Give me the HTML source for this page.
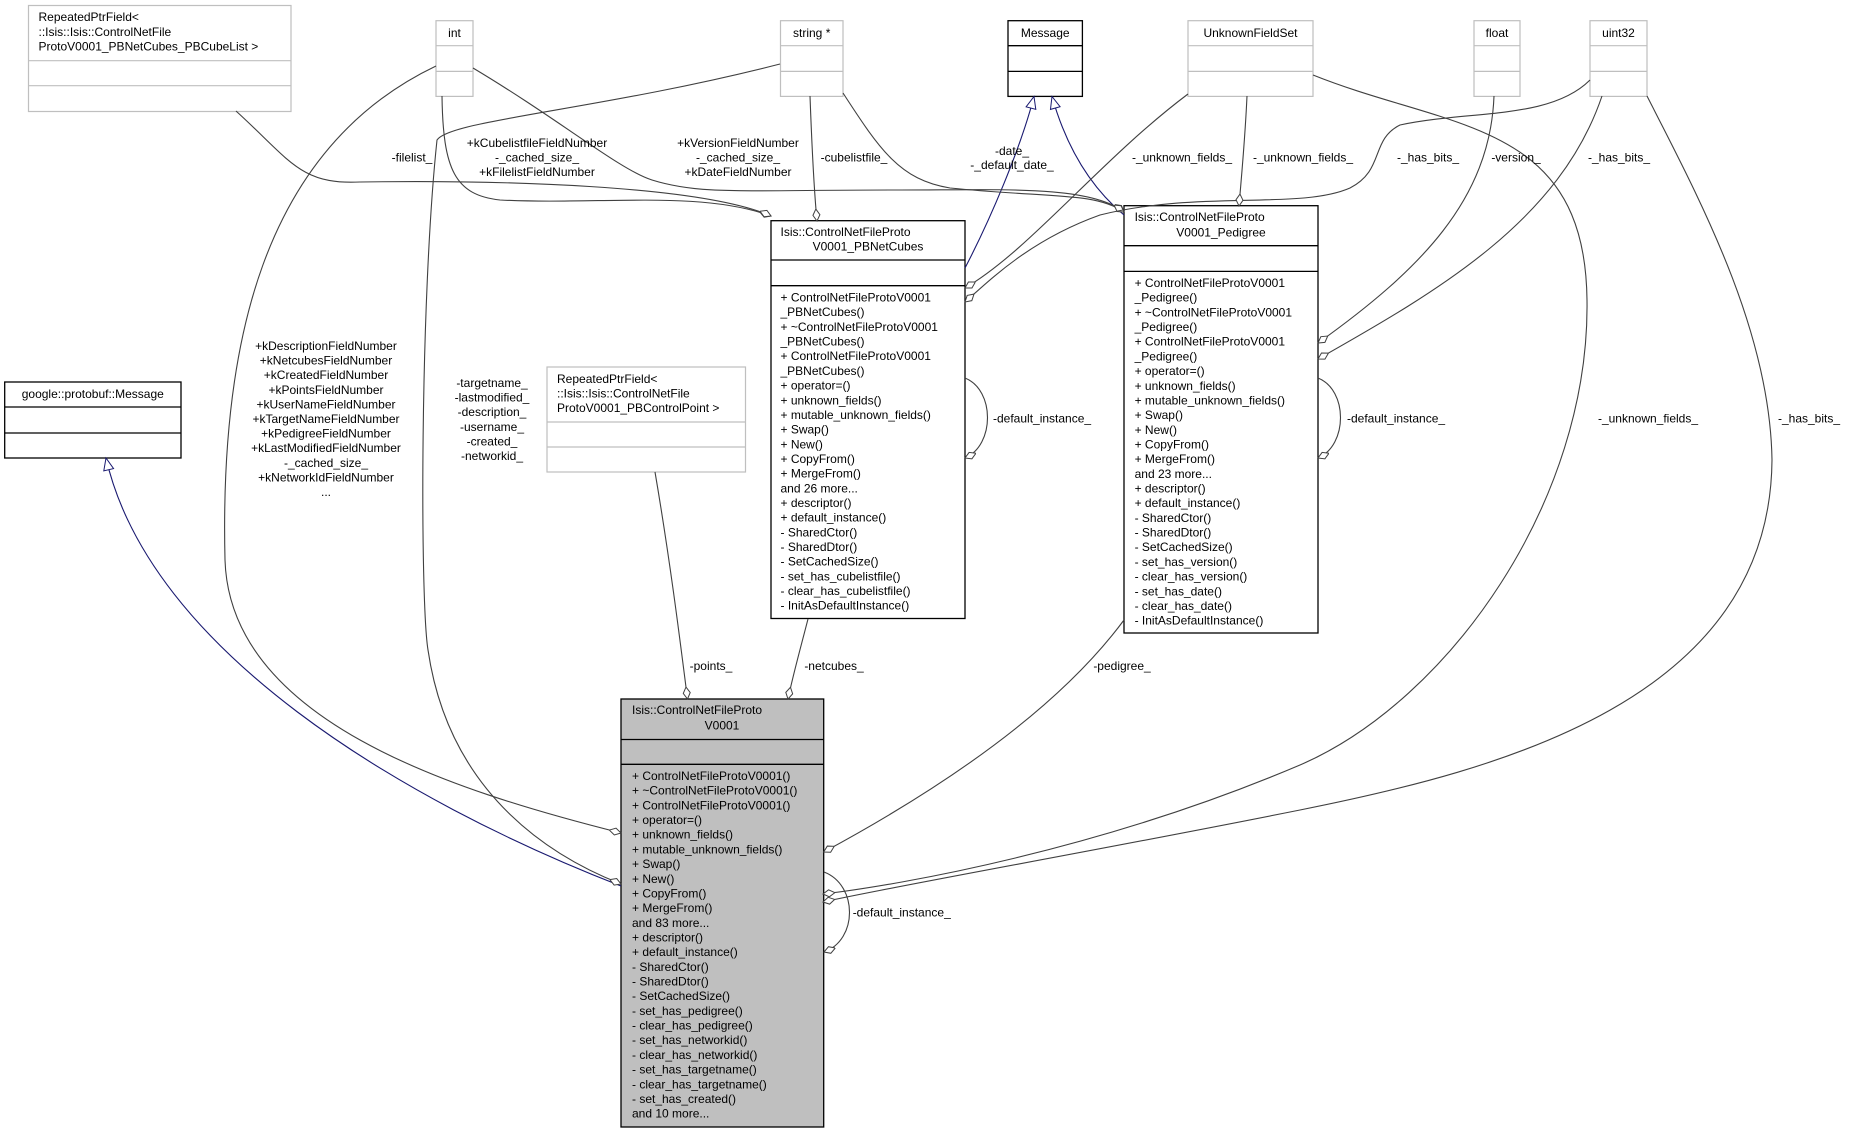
<!DOCTYPE html>
<html><head><meta charset="utf-8"><style>
html,body{margin:0;padding:0;background:#fff;}
svg{display:block;}
text{font-family:"Liberation Sans",sans-serif;font-size:12px;fill:#000;}
.c{text-anchor:middle;}
.e{fill:none;stroke:#404040;stroke-width:1.1;}
.b{fill:none;stroke:#191970;stroke-width:1.1;}
</style></head><body>
<svg width="1849" height="1133" xmlns="http://www.w3.org/2000/svg">
<defs>
<marker id="d" markerUnits="userSpaceOnUse" markerWidth="16" markerHeight="10" refX="12" refY="5" orient="auto" viewBox="0 0 16 10">
<path d="M0,5 L6,1.5 L12,5 L6,8.5 Z" fill="#fff" stroke="#404040" stroke-width="1"/></marker>
<marker id="t" markerUnits="userSpaceOnUse" markerWidth="16" markerHeight="12" refX="13" refY="6" orient="auto" viewBox="0 0 16 12">
<path d="M1,1 L13,6 L1,11 Z" fill="#fff" stroke="#191970" stroke-width="1"/></marker>
</defs>

<g fill="#fff" stroke="#bfbfbf" stroke-width="1.2">
<rect x="28.5" y="5.5" width="262.5" height="106"/><line x1="28.5" y1="60.7" x2="291" y2="60.7"/><line x1="28.5" y1="85.7" x2="291" y2="85.7"/>
<rect x="436" y="20.7" width="37" height="75.7"/><line x1="436" y1="45.7" x2="473" y2="45.7"/><line x1="436" y1="71.4" x2="473" y2="71.4"/>
<rect x="780.5" y="20.7" width="62.5" height="75.7"/><line x1="780.5" y1="45.7" x2="843" y2="45.7"/><line x1="780.5" y1="71.4" x2="843" y2="71.4"/>
<rect x="1188" y="20.7" width="125" height="75.7"/><line x1="1188" y1="45.7" x2="1313" y2="45.7"/><line x1="1188" y1="71.4" x2="1313" y2="71.4"/>
<rect x="1474" y="20.7" width="46" height="75.7"/><line x1="1474" y1="45.7" x2="1520" y2="45.7"/><line x1="1474" y1="71.4" x2="1520" y2="71.4"/>
<rect x="1590" y="20.7" width="57" height="75.7"/><line x1="1590" y1="45.7" x2="1647" y2="45.7"/><line x1="1590" y1="71.4" x2="1647" y2="71.4"/>
<rect x="547" y="367" width="198.5" height="105"/><line x1="547" y1="422" x2="745.5" y2="422"/><line x1="547" y1="447" x2="745.5" y2="447"/>
</g>
<g fill="#fff" stroke="#000" stroke-width="1.3">
<rect x="1008" y="20.7" width="74.4" height="75.7"/><line x1="1008" y1="45.7" x2="1082.4" y2="45.7"/><line x1="1008" y1="71.4" x2="1082.4" y2="71.4"/>
<rect x="4.7" y="382" width="176.3" height="76"/><line x1="4.7" y1="407" x2="181" y2="407"/><line x1="4.7" y1="433" x2="181" y2="433"/>
<rect x="771" y="220.7" width="194" height="397.8"/><line x1="771" y1="260" x2="965" y2="260"/><line x1="771" y1="285.7" x2="965" y2="285.7"/>
<rect x="1124" y="205.7" width="194" height="427.3"/><line x1="1124" y1="245.7" x2="1318" y2="245.7"/><line x1="1124" y1="271.4" x2="1318" y2="271.4"/>
<rect x="621" y="699" width="202.7" height="428" fill="#bfbfbf"/><line x1="621" y1="739.5" x2="823.7" y2="739.5"/><line x1="621" y1="764.3" x2="823.7" y2="764.3"/>
</g>

<text x="38.5" y="21">RepeatedPtrField&lt;</text>
<text x="38.5" y="36">::Isis::Isis::ControlNetFile</text>
<text x="38.5" y="50.5">ProtoV0001_PBNetCubes_PBCubeList &gt;</text>
<text class="c" x="454.5" y="37">int</text>
<text class="c" x="811.7" y="37">string *</text>
<text class="c" x="1045.2" y="37">Message</text>
<text class="c" x="1250.5" y="37">UnknownFieldSet</text>
<text class="c" x="1497" y="37">float</text>
<text class="c" x="1618.5" y="37">uint32</text>
<text class="c" x="92.8" y="398">google::protobuf::Message</text>
<text x="557" y="383">RepeatedPtrField&lt;</text>
<text x="557" y="397.5">::Isis::Isis::ControlNetFile</text>
<text x="557" y="412">ProtoV0001_PBControlPoint &gt;</text>

<text x="780.5" y="236">Isis::ControlNetFileProto</text>
<text class="c" x="868" y="250.5">V0001_PBNetCubes</text>
<g>
<text x="780.5" y="301.5">+ ControlNetFileProtoV0001</text>
<text x="780.5" y="316.2">_PBNetCubes()</text>
<text x="780.5" y="330.9">+ ~ControlNetFileProtoV0001</text>
<text x="780.5" y="345.5">_PBNetCubes()</text>
<text x="780.5" y="360.2">+ ControlNetFileProtoV0001</text>
<text x="780.5" y="374.9">_PBNetCubes()</text>
<text x="780.5" y="389.6">+ operator=()</text>
<text x="780.5" y="404.3">+ unknown_fields()</text>
<text x="780.5" y="418.9">+ mutable_unknown_fields()</text>
<text x="780.5" y="433.6">+ Swap()</text>
<text x="780.5" y="448.3">+ New()</text>
<text x="780.5" y="463">+ CopyFrom()</text>
<text x="780.5" y="477.7">+ MergeFrom()</text>
<text x="780.5" y="492.3">and 26 more...</text>
<text x="780.5" y="507">+ descriptor()</text>
<text x="780.5" y="521.7">+ default_instance()</text>
<text x="780.5" y="536.4">- SharedCtor()</text>
<text x="780.5" y="551">- SharedDtor()</text>
<text x="780.5" y="565.7">- SetCachedSize()</text>
<text x="780.5" y="580.4">- set_has_cubelistfile()</text>
<text x="780.5" y="595.1">- clear_has_cubelistfile()</text>
<text x="780.5" y="609.7">- InitAsDefaultInstance()</text>
</g>

<text x="1134.6" y="221">Isis::ControlNetFileProto</text>
<text class="c" x="1221" y="236.5">V0001_Pedigree</text>
<g>
<text x="1134.6" y="287">+ ControlNetFileProtoV0001</text>
<text x="1134.6" y="301.7">_Pedigree()</text>
<text x="1134.6" y="316.4">+ ~ControlNetFileProtoV0001</text>
<text x="1134.6" y="331">_Pedigree()</text>
<text x="1134.6" y="345.7">+ ControlNetFileProtoV0001</text>
<text x="1134.6" y="360.4">_Pedigree()</text>
<text x="1134.6" y="375.1">+ operator=()</text>
<text x="1134.6" y="389.8">+ unknown_fields()</text>
<text x="1134.6" y="404.4">+ mutable_unknown_fields()</text>
<text x="1134.6" y="419.1">+ Swap()</text>
<text x="1134.6" y="433.8">+ New()</text>
<text x="1134.6" y="448.5">+ CopyFrom()</text>
<text x="1134.6" y="463.2">+ MergeFrom()</text>
<text x="1134.6" y="477.8">and 23 more...</text>
<text x="1134.6" y="492.5">+ descriptor()</text>
<text x="1134.6" y="507.2">+ default_instance()</text>
<text x="1134.6" y="521.9">- SharedCtor()</text>
<text x="1134.6" y="536.5">- SharedDtor()</text>
<text x="1134.6" y="551.2">- SetCachedSize()</text>
<text x="1134.6" y="565.9">- set_has_version()</text>
<text x="1134.6" y="580.6">- clear_has_version()</text>
<text x="1134.6" y="595.3">- set_has_date()</text>
<text x="1134.6" y="609.9">- clear_has_date()</text>
<text x="1134.6" y="624.6">- InitAsDefaultInstance()</text>
</g>

<text x="632" y="714">Isis::ControlNetFileProto</text>
<text class="c" x="722" y="729.6">V0001</text>
<g>
<text x="632" y="780">+ ControlNetFileProtoV0001()</text>
<text x="632" y="794.7">+ ~ControlNetFileProtoV0001()</text>
<text x="632" y="809.4">+ ControlNetFileProtoV0001()</text>
<text x="632" y="824">+ operator=()</text>
<text x="632" y="838.7">+ unknown_fields()</text>
<text x="632" y="853.4">+ mutable_unknown_fields()</text>
<text x="632" y="868.1">+ Swap()</text>
<text x="632" y="882.8">+ New()</text>
<text x="632" y="897.4">+ CopyFrom()</text>
<text x="632" y="912.1">+ MergeFrom()</text>
<text x="632" y="926.8">and 83 more...</text>
<text x="632" y="941.5">+ descriptor()</text>
<text x="632" y="956.2">+ default_instance()</text>
<text x="632" y="970.8">- SharedCtor()</text>
<text x="632" y="985.5">- SharedDtor()</text>
<text x="632" y="1000.2">- SetCachedSize()</text>
<text x="632" y="1014.9">- set_has_pedigree()</text>
<text x="632" y="1029.6">- clear_has_pedigree()</text>
<text x="632" y="1044.2">- set_has_networkid()</text>
<text x="632" y="1058.9">- clear_has_networkid()</text>
<text x="632" y="1073.6">- set_has_targetname()</text>
<text x="632" y="1088.3">- clear_has_targetname()</text>
<text x="632" y="1103">- set_has_created()</text>
<text x="632" y="1117.7">and 10 more...</text>
</g>

<path class="b" d="M621,886 C 400,800 150,650 106,458" marker-end="url(#t)"/>
<path class="b" d="M965,268 C 990,220 1020,150 1034,96.5" marker-end="url(#t)"/>
<path class="b" d="M1124,215 C 1100,195 1070,160 1052,96.5" marker-end="url(#t)"/>

<path class="e" d="M436,66 C 260,150 220,350 225,560 C 230,720 450,790 621,833" marker-end="url(#d)"/>
<path class="e" d="M780,64 C 600,110 450,120 437,140 C 420,300 420,600 428,650 C 450,800 560,860 621,884" marker-end="url(#d)"/>
<path class="e" d="M442,96 C 443,170 455,195 500,200 C 600,205 700,190 771,216" marker-end="url(#d)"/>
<path class="e" d="M236,111 C 290,160 300,185 360,182 C 500,180 700,185 771,216" marker-end="url(#d)"/>
<path class="e" d="M473,68 C 560,120 620,170 652,180 C 700,195 740,190 900,190 C 1000,190 1090,185 1124,212" marker-end="url(#d)"/>
<path class="e" d="M843,93 C 880,150 900,180 950,188 C 1050,198 1095,192 1124,212" marker-end="url(#d)"/>
<path class="e" d="M810,96 C 812,150 814,190 817,221" marker-end="url(#d)"/>
<path class="e" d="M1188,94 C 1100,160 1030,250 965,288" marker-end="url(#d)"/>
<path class="e" d="M1590,80 C 1550,120 1470,110 1400,125 C 1370,140 1385,170 1350,188 C 1300,210 1200,190 1100,215 C 1030,240 990,280 965,302" marker-end="url(#d)"/>
<path class="e" d="M1247,96 C 1245,140 1242,170 1239,206" marker-end="url(#d)"/>
<path class="e" d="M1494,96 C 1490,200 1420,270 1318,343" marker-end="url(#d)"/>
<path class="e" d="M1602,96 C 1560,220 1440,290 1318,359" marker-end="url(#d)"/>
<path class="e" d="M1313,75 C 1450,130 1585,120 1587,300 C 1590,500 1450,700 1300,765 C 1100,850 900,885 823,894" marker-end="url(#d)"/>
<path class="e" d="M1647,96 C 1700,200 1770,330 1772,460 C 1770,700 1500,770 1300,810 C 1100,850 900,885 823,902" marker-end="url(#d)"/>
<path class="e" d="M965,378 C 995,390 995,445 965,458" marker-end="url(#d)"/>
<path class="e" d="M1318,378 C 1348,390 1348,445 1318,458" marker-end="url(#d)"/>
<path class="e" d="M824,872 C 858,885 858,940 824,952" marker-end="url(#d)"/>
<path class="e" d="M655,472 C 670,560 680,640 687.5,699" marker-end="url(#d)"/>
<path class="e" d="M808,619 C 800,650 793,675 788,699" marker-end="url(#d)"/>
<path class="e" d="M1124,620 C 1050,720 920,800 823.7,852" marker-end="url(#d)"/>

<g class="c">
<text x="326" y="350">+kDescriptionFieldNumber</text>
<text x="326" y="364.6">+kNetcubesFieldNumber</text>
<text x="326" y="379.2">+kCreatedFieldNumber</text>
<text x="326" y="393.8">+kPointsFieldNumber</text>
<text x="326" y="408.4">+kUserNameFieldNumber</text>
<text x="326" y="423">+kTargetNameFieldNumber</text>
<text x="326" y="437.6">+kPedigreeFieldNumber</text>
<text x="326" y="452.2">+kLastModifiedFieldNumber</text>
<text x="326" y="466.8">-_cached_size_</text>
<text x="326" y="481.4">+kNetworkIdFieldNumber</text>
<text x="326" y="496">...</text>
<text x="492" y="387">-targetname_</text>
<text x="492" y="401.6">-lastmodified_</text>
<text x="492" y="416.2">-description_</text>
<text x="492" y="430.8">-username_</text>
<text x="492" y="445.4">-created_</text>
<text x="492" y="460">-networkid_</text>
<text x="537" y="147">+kCubelistfileFieldNumber</text>
<text x="537" y="161.5">-_cached_size_</text>
<text x="537" y="176">+kFilelistFieldNumber</text>
<text x="412" y="161.5">-filelist_</text>
<text x="738" y="147">+kVersionFieldNumber</text>
<text x="738" y="161.5">-_cached_size_</text>
<text x="738" y="176">+kDateFieldNumber</text>
<text x="854" y="161.5">-cubelistfile_</text>
<text x="1012" y="155">-date_</text>
<text x="1012" y="169">-_default_date_</text>
<text x="1182" y="161.5">-_unknown_fields_</text>
<text x="1303" y="161.5">-_unknown_fields_</text>
<text x="1428" y="161.5">-_has_bits_</text>
<text x="1516" y="161.5">-version_</text>
<text x="1619" y="161.5">-_has_bits_</text>
<text x="1648" y="422.6">-_unknown_fields_</text>
<text x="1809" y="422.6">-_has_bits_</text>
<text x="711" y="670">-points_</text>
<text x="834" y="670">-netcubes_</text>
<text x="1122" y="670">-pedigree_</text>
</g>
<text x="993" y="422.6">-default_instance_</text>
<text x="1347" y="422.6">-default_instance_</text>
<text x="852.7" y="916.7">-default_instance_</text>
</svg>
</body></html>
